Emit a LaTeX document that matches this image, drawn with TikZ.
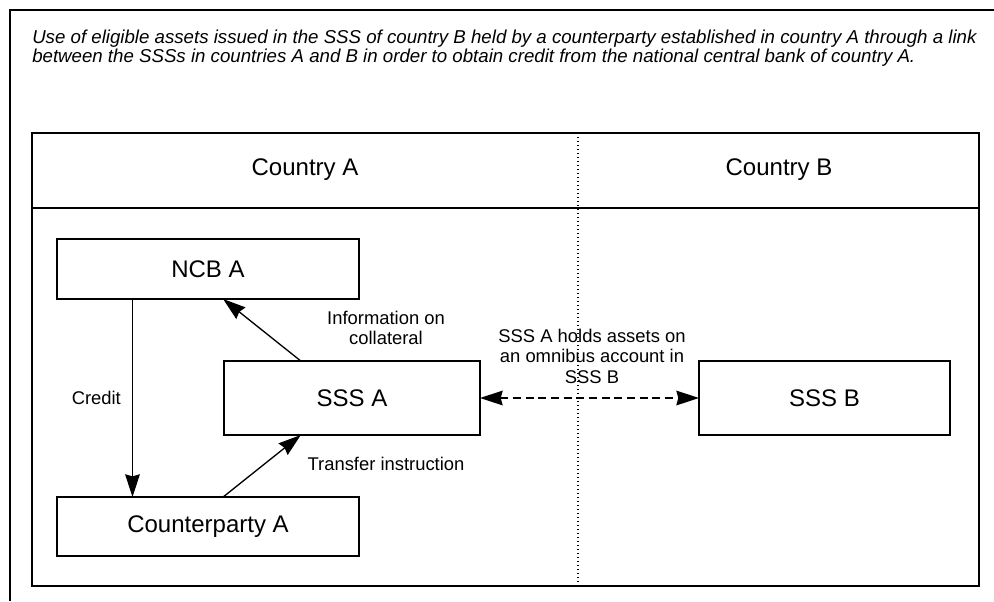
\documentclass[tikz,border=0pt]{standalone}
\usepackage{fontspec}
\setmainfont{Liberation Sans}
\usetikzlibrary{arrows.meta,calc}

\begin{document}
\begin{tikzpicture}[
    x=0.75pt, y=-0.75pt,
    box/.style={rectangle, draw=black, line width=1.1pt, outer sep=0pt, inner sep=0pt, font=\fontsize{18}{21}\selectfont},
    head/.style={inner sep=0pt, font=\fontsize{18}{21}\selectfont},
    lbl/.style={inner sep=0pt, align=center, font=\fontsize{13.8}{15.4}\selectfont},
    title/.style={inner sep=0pt, align=left, font=\itshape\fontsize{14}{12.9}\selectfont},
    frame/.style={line width=1.1pt},
    border/.style={line width=0.9pt, dash pattern=on 1pt off 2pt},
    arrow/.style={line width=1pt, -{Stealth[length=17pt, width=11pt, inset=1.5pt]}},
    link/.style={line width=1pt, dash pattern=on 6pt off 3.5pt, {Stealth[length=17pt, width=11pt, inset=1.5pt]}-{Stealth[length=17pt, width=11pt, inset=1.5pt]}}
]
\useasboundingbox (0,0) rectangle (994,601);
% Frames
\draw[frame] (10,601) -- (10,10) -- (994,10);
\draw[frame] (32,133) rectangle (979,586);
\draw[frame] (32,208) -- (979,208);
\draw[border] (578,133) -- (578,586);
% Title
\node[title, anchor=north west] (title) at (32,29.5) {Use of eligible assets issued in the SSS of country B held by a counterparty established in country A through a link\\between the SSSs in countries A and B in order to obtain credit from the national central bank of country A.};
% Country headers
\node[head] (hdra) at (305,170) {Country A};
\node[head] (hdrb) at (779,170) {Country B};
% Boxes
\node[box, minimum width=226.5pt, minimum height=45pt] (ncb) at (208,269) {NCB A};
\node[box, minimum width=192pt, minimum height=55.5pt] (sssa) at (352,398) {SSS A};
\node[box, minimum width=226.5pt, minimum height=44.25pt] (cpty) at (208,526.5) {Counterparty A};
\node[box, minimum width=188.25pt, minimum height=55.5pt] (sssb) at (824.5,398) {SSS B};
% Labels
\node[lbl] (info) at (386,328) {Information on\\collateral};
\node[lbl] (transfer) at (386,464) {Transfer instruction};
\node[lbl] (omnibus) at (592,356) {SSS A holds assets on\\an omnibus account in\\SSS B};
% Arrows
\draw[arrow] ($(ncb.south west)!0.25!(ncb.south east)$) -- ($(cpty.north west)!0.25!(cpty.north east)$) node[lbl, midway, left=8.25pt] (credit) {Credit};
\draw[arrow] ($(sssa.north west)!0.3!(sssa.north east)$) -- ($(ncb.south west)!0.55!(ncb.south east)$);
\draw[arrow] ($(cpty.north west)!0.55!(cpty.north east)$) -- ($(sssa.south west)!0.3!(sssa.south east)$);
\draw[link] (sssa.east) -- (sssb.west);
\end{tikzpicture}
\end{document}
